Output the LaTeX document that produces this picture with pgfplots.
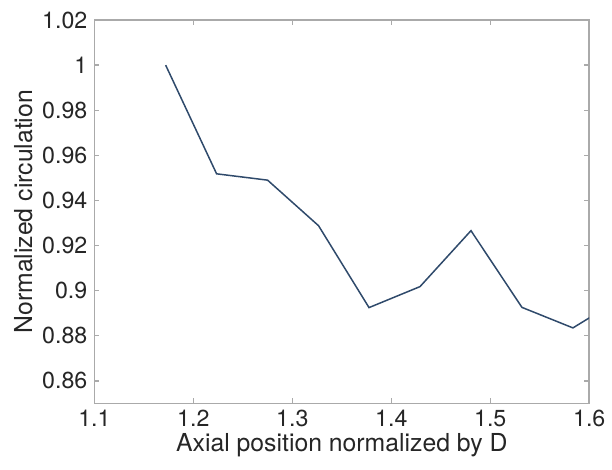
\documentclass[border=0pt]{standalone}
\usepackage{fontspec}
\setmainfont{TeX Gyre Heros}
\usepackage{pgfplots}
\pgfplotsset{compat=1.18}

\definecolor{linecol}{RGB}{47,74,107}
\definecolor{axiscol}{RGB}{170,170,170}
\definecolor{textcol}{RGB}{38,38,38}

\begin{document}
\begin{tikzpicture}
\begin{axis}[
  scale only axis,
  width=247.75pt, height=192pt,
  xmin=1.1, xmax=1.6,
  ymin=0.85, ymax=1.02,
  xtick={1.1,1.2,1.3,1.4,1.5,1.6},
  ytick={0.86,0.88,0.90,0.92,0.94,0.96,0.98,1.00,1.02},
  xticklabels={1.1,1.2,1.3,1.4,1.5,1.6},
  yticklabels={0.86,0.88,0.9,0.92,0.94,0.96,0.98,1,1.02},
  tick align=inside,
  major tick length=2.5pt,
  axis line style={axiscol, line width=0.8pt},
  every tick/.style={axiscol, line width=0.6pt},
  tick label style={font=\fontsize{11.6}{13}\selectfont, text=textcol},
  label style={font=\fontsize{12.4}{14}\selectfont, text=textcol},
  xticklabel style={yshift=0pt},
  yticklabel style={xshift=0pt},
  /pgf/number format/assume math mode=true,
  xlabel={Axial position normalized by D},
  ylabel={Normalized circulation},
  xlabel style={yshift=4pt},
  ylabel style={yshift=-2pt},
  clip=true,
]
\addplot[linecol, line width=0.75pt] coordinates {
  (1.172, 1.0000)
  (1.2235, 0.9518)
  (1.275, 0.9490)
  (1.3265, 0.9288)
  (1.3775, 0.8925)
  (1.429, 0.9018)
  (1.4805, 0.9266)
  (1.532, 0.8926)
  (1.5835, 0.8835)
  (1.635, 0.8973)
};
\end{axis}
\path (current axis.south west) ++(-47.25pt,-33pt) rectangle ([shift={(11pt,10pt)}]current axis.north east);
\end{tikzpicture}
\end{document}
